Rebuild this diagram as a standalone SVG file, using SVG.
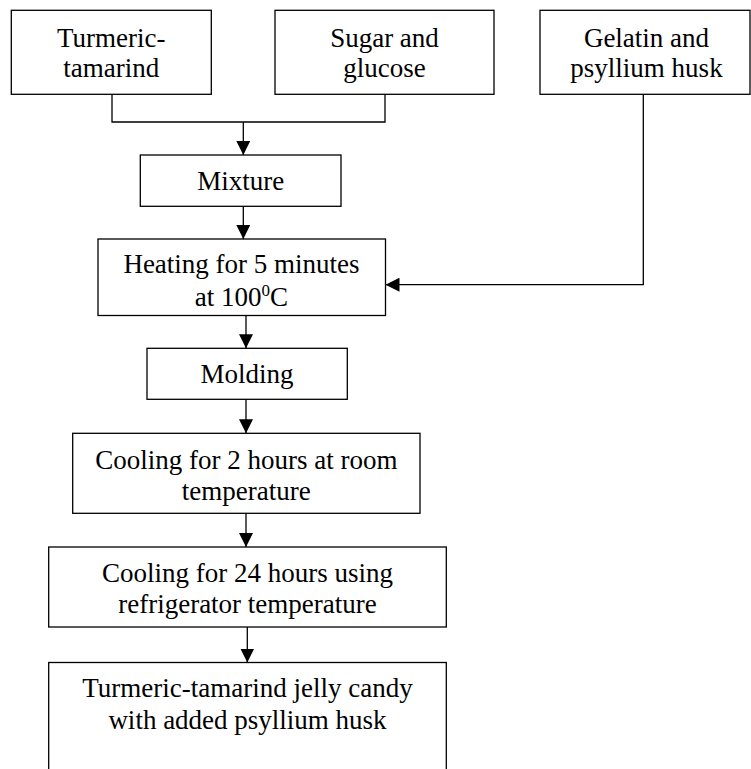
<svg xmlns="http://www.w3.org/2000/svg" width="751" height="769" viewBox="0 0 751 769">
<defs>
<style>
rect.box{fill:#fff;stroke:#000;stroke-width:1.3}
text{font-family:'Liberation Serif','Times New Roman','DejaVu Serif',serif;font-size:27px;fill:#000;text-anchor:middle}
.conn path{fill:none;stroke:#000;stroke-width:1.3}
</style>
<marker id="ah" markerUnits="userSpaceOnUse" markerWidth="14" markerHeight="14" refX="14" refY="7" orient="auto">
<path d="M0,0 L14,7 L0,14 Z" fill="#000"/>
</marker>
</defs>
<rect width="751" height="769" fill="#fff"/>
<g class="conn" id="connectors">
<path d="M112,94.3 V122 H385 V94.3"/>
<path d="M243.3,122 V155" marker-end="url(#ah)"/>
<path d="M243.3,206.3 V239" marker-end="url(#ah)"/>
<path d="M643.3,94.3 V284.7 H385.5" marker-end="url(#ah)"/>
<path d="M246,315.7 V348.3" marker-end="url(#ah)"/>
<path d="M246,399.3 V433.3" marker-end="url(#ah)"/>
<path d="M246,513.3 V547" marker-end="url(#ah)"/>
<path d="M247.3,627 V662.5" marker-end="url(#ah)"/>
</g>
<g id="n1" font-family="Liberation Serif, serif"><rect class="box" x="11.3" y="10.3" width="200" height="84"/><text x="111.3" y="46.5">Turmeric-</text><text x="111.3" y="77">tamarind</text></g>
<g id="n2"><rect class="box" x="275" y="10.3" width="219" height="84"/><text x="384.5" y="46.5">Sugar and</text><text x="384.5" y="77">glucose</text></g>
<g id="n3"><rect class="box" x="540" y="10.3" width="210" height="84"/><text x="646.5" y="46.5">Gelatin and</text><text x="646.5" y="77">psyllium husk</text></g>
<g id="n4"><rect class="box" x="140.3" y="155" width="200.7" height="51.3"/><text x="240.7" y="190">Mixture</text></g>
<g id="n5"><rect class="box" x="98" y="239" width="287.5" height="76.5"/><text x="241.5" y="273.3">Heating for 5 minutes</text><text x="241.5" y="306">at 100<tspan font-size="17" dy="-10">0</tspan><tspan dy="10">C</tspan></text></g>
<g id="n6"><rect class="box" x="147" y="348.3" width="200.3" height="51"/><text x="247" y="383.3">Molding</text></g>
<g id="n7"><rect class="box" x="72.7" y="433.3" width="347.3" height="80"/><text x="246.3" y="468.5">Cooling for 2 hours at room</text><text x="246.3" y="500">temperature</text></g>
<g id="n8"><rect class="box" x="48.7" y="547" width="397.6" height="80"/><text x="247.5" y="581.7">Cooling for 24 hours using</text><text x="247.5" y="613">refrigerator temperature</text></g>
<g id="n9"><rect class="box" x="48.7" y="662.5" width="397.6" height="130"/><text x="247.5" y="697">Turmeric-tamarind jelly candy</text><text x="247.5" y="728.5">with added psyllium husk</text></g>
</svg>
